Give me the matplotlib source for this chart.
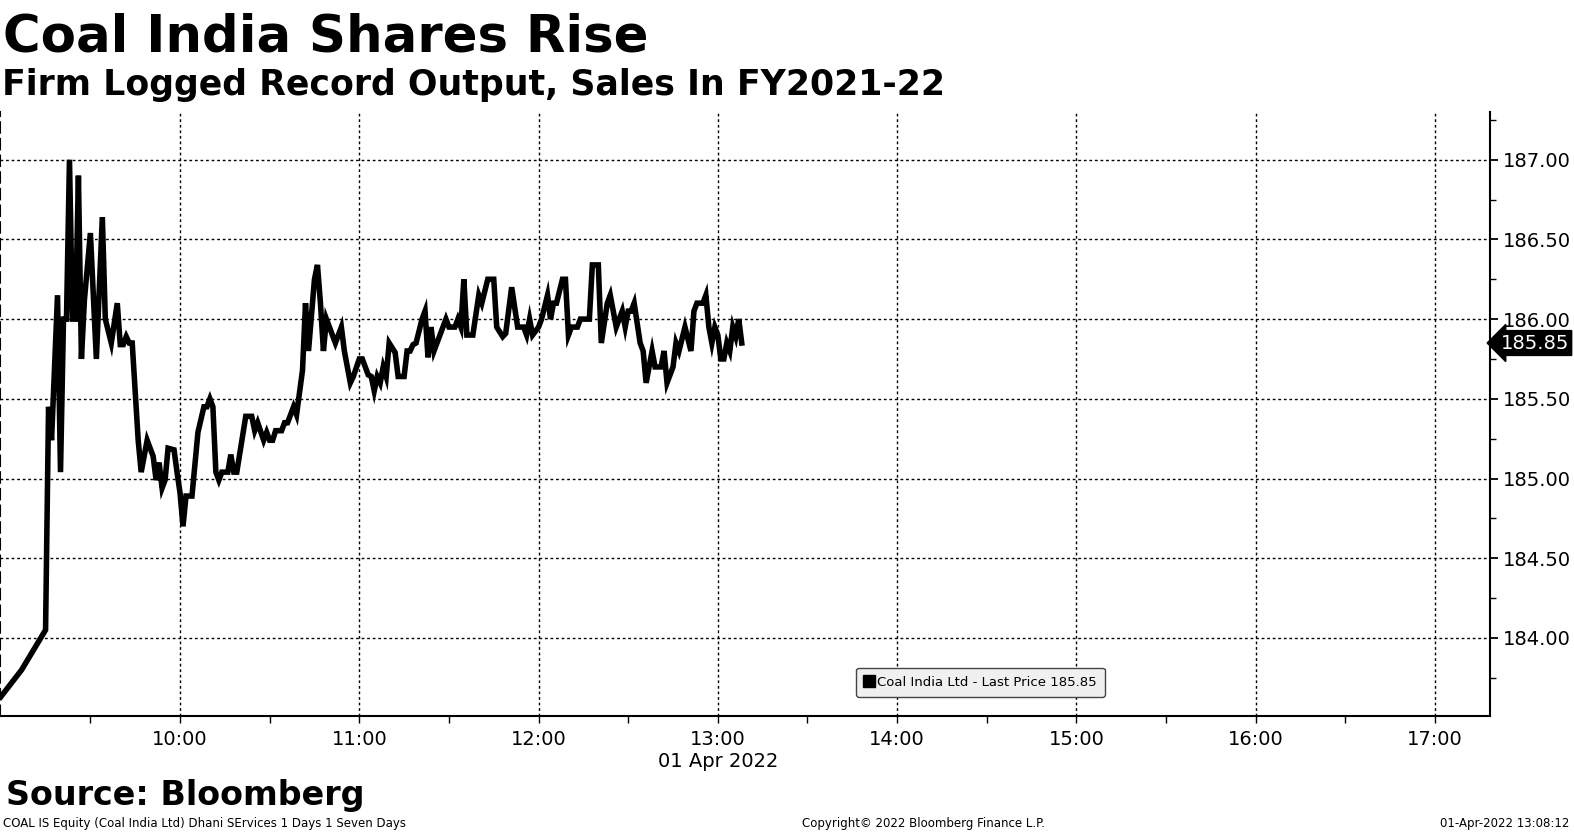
import pandas as pd
import matplotlib
matplotlib.use("Agg")
import matplotlib.pyplot as plt
import matplotlib.dates as mdates
import matplotlib.transforms as mtransforms
from matplotlib.lines import Line2D
from matplotlib.ticker import MultipleLocator

# Coal India intraday price, 01 Apr 2022
times = [
    # 09:xx
    "09:00", "09:07", "09:15", "09:16", "09:17", "09:19", "09:20", "09:21", "09:22", "09:23",
    "09:24", "09:25", "09:26", "09:27", "09:28", "09:30", "09:32", "09:34", "09:35", "09:37",
    "09:39", "09:40", "09:41", "09:42", "09:43", "09:44", "09:46", "09:47", "09:49", "09:51",
    "09:52", "09:53", "09:54", "09:55", "09:56", "09:58", "09:59",
    # 10:xx
    "10:00", "10:01", "10:02", "10:04", "10:06", "10:08", "10:09", "10:10", "10:11", "10:12",
    "10:13", "10:14", "10:16", "10:17", "10:18", "10:19", "10:22", "10:24", "10:25", "10:26",
    "10:28", "10:29", "10:30", "10:31", "10:32", "10:34", "10:35", "10:36", "10:38", "10:39",
    "10:41", "10:42", "10:43", "10:45", "10:46", "10:47", "10:48", "10:49", "10:52", "10:54",
    "10:55", "10:57", "10:58",
    # 11:xx
    "11:00", "11:01", "11:03", "11:04", "11:05", "11:06", "11:07", "11:08", "11:09", "11:10",
    "11:12", "11:13", "11:15", "11:16", "11:17", "11:18", "11:19", "11:21", "11:22", "11:23",
    "11:24", "11:25", "11:29", "11:30", "11:32", "11:33", "11:34", "11:35", "11:36", "11:38",
    "11:40", "11:41", "11:43", "11:45", "11:46", "11:48", "11:49", "11:51", "11:53", "11:55",
    "11:56", "11:57", "11:58",
    # 12:xx
    "12:00", "12:01", "12:03", "12:04", "12:05", "12:06", "12:08", "12:09", "12:10", "12:11",
    "12:13", "12:14", "12:17", "12:18", "12:20", "12:21", "12:23", "12:24", "12:26", "12:28",
    "12:29", "12:30", "12:31", "12:32", "12:34", "12:35", "12:36", "12:38", "12:39", "12:41",
    "12:42", "12:43", "12:45", "12:46", "12:47", "12:49", "12:51", "12:52", "12:53", "12:55",
    "12:56", "12:57", "12:58", "12:59",
    # 13:xx
    "13:00", "13:01", "13:02", "13:03", "13:04", "13:05", "13:06", "13:07", "13:08",
]

prices = [
    # 09:xx
    183.63, 183.80, 184.05, 185.45, 185.24, 186.15, 185.04, 186.00, 186.00, 187.00,
    186.00, 186.00, 186.90, 185.75, 186.12, 186.54, 185.75, 186.64, 186.00, 185.85,
    186.10, 185.84, 185.84, 185.89, 185.85, 185.85, 185.24, 185.04, 185.24, 185.14,
    184.99, 185.10, 184.94, 184.99, 185.19, 185.18, 185.04,
    # 10:xx
    184.91, 184.70, 184.89, 184.89, 185.29, 185.45, 185.45, 185.50, 185.45, 185.04,
    184.99, 185.04, 185.04, 185.15, 185.04, 185.04, 185.39, 185.39, 185.30, 185.35,
    185.24, 185.29, 185.24, 185.24, 185.30, 185.30, 185.35, 185.35, 185.45, 185.40,
    185.68, 186.10, 185.80, 186.25, 186.34, 186.10, 185.80, 186.00, 185.85, 185.95,
    185.80, 185.60, 185.64,
    # 11:xx
    185.75, 185.75, 185.65, 185.64, 185.55, 185.64, 185.60, 185.70, 185.64, 185.85,
    185.79, 185.64, 185.64, 185.80, 185.80, 185.84, 185.85, 186.00, 186.05, 185.76,
    185.95, 185.80, 186.00, 185.95, 185.95, 186.00, 185.95, 186.25, 185.90, 185.90,
    186.15, 186.10, 186.25, 186.25, 185.95, 185.89, 185.91, 186.20, 185.95, 185.95,
    185.90, 186.00, 185.90,
    # 12:xx
    185.95, 186.00, 186.15, 186.00, 186.10, 186.10, 186.25, 186.25, 185.90, 185.95,
    185.95, 186.00, 186.00, 186.34, 186.34, 185.85, 186.10, 186.15, 185.95, 186.05,
    185.95, 186.05, 186.05, 186.10, 185.85, 185.80, 185.60, 185.80, 185.70, 185.70,
    185.80, 185.60, 185.70, 185.85, 185.80, 185.95, 185.80, 186.05, 186.10, 186.10,
    186.15, 185.95, 185.85, 185.95,
    # 13:xx
    185.90, 185.75, 185.75, 185.85, 185.80, 185.95, 185.89, 186.00, 185.85,
]

day = "2022-04-01"
last_price = prices[-1]
series_name = "Coal India Ltd - Last Price"

df = pd.DataFrame({"time": pd.to_datetime([day + " " + t for t in times]), "price": prices})

fig = plt.figure(figsize=(15.74, 8.35), dpi=100)
ax = fig.add_axes([0.0, 0.1425, 0.9466, 0.7235])

ax.plot(df["time"], df["price"], color="black", lw=4.0, solid_joinstyle="miter")

# axis limits
ax.set_xlim(pd.Timestamp(day + " 08:59:45"), pd.Timestamp(day + " 17:18:25"))
ax.set_ylim(183.51, 187.30)

# grid
ax.xaxis.set_major_locator(mdates.HourLocator(byhour=range(10, 18)))
ax.xaxis.set_minor_locator(mdates.MinuteLocator(byminute=[30]))
ax.xaxis.set_major_formatter(mdates.DateFormatter("%H:%M"))
ax.yaxis.set_major_locator(MultipleLocator(0.5))
ax.yaxis.set_minor_locator(MultipleLocator(0.25))
ax.yaxis.set_major_formatter(lambda v, p: f"{v:.2f}")
ax.grid(True, which="major", color="black", linestyle=(0, (2, 2)), lw=1.0)
ax.set_axisbelow(True)

# spines / ticks
ax.yaxis.tick_right()
ax.spines["top"].set_visible(False)
ax.spines["left"].set_linestyle((0, (5, 3)))
ax.spines["left"].set_linewidth(1.5)
ax.spines["right"].set_linewidth(1.5)
ax.spines["bottom"].set_linewidth(1.5)
ax.tick_params(axis="y", which="major", direction="out", length=6, width=1.3, labelsize=14, pad=3)
ax.tick_params(axis="y", which="minor", direction="out", length=4, width=1)
ax.tick_params(axis="x", which="major", direction="out", length=5, width=1, labelsize=14, pad=5)
ax.tick_params(axis="x", which="minor", direction="out", length=5, width=1)
ax.set_xlabel("01 Apr 2022", fontsize=14)
ax.xaxis.set_label_coords(718 / 1490, -0.06)

# last price tag on the right axis
trans = mtransforms.blended_transform_factory(ax.transAxes, ax.transData)
ax.text(1.007, last_price, f"{last_price:.2f}", transform=trans, color="white", fontsize=14,
        va="center", ha="left",
        bbox=dict(boxstyle="larrow,pad=0.15", fc="black", ec="black"))

# legend box
handle = Line2D([], [], color="black", marker="s", linestyle="none", markersize=9)
leg = ax.legend([handle], [f"{series_name} {last_price:.2f}"], loc="center",
                bbox_to_anchor=(0.623, 0.183), bbox_transform=fig.transFigure,
                fontsize=9.5, fancybox=True, framealpha=1, handletextpad=0.2,
                handlelength=0.8, borderpad=0.6)
leg.get_frame().set_facecolor("#f0f0f0")
leg.get_frame().set_edgecolor("#444444")

# titles and footer
fig.text(0.002, 0.985, "Coal India Shares Rise", fontsize=37, fontweight="bold", va="top", ha="left")
fig.text(0.001, 0.919, "Firm Logged Record Output, Sales In FY2021-22", fontsize=25,
         fontweight="bold", va="top", ha="left")
fig.text(0.004, 0.036, "Source: Bloomberg", fontsize=24, fontweight="bold", va="baseline", ha="left")
fig.text(0.002, 0.006, "COAL IS Equity (Coal India Ltd) Dhani SErvices 1 Days 1 Seven Days",
         fontsize=8.5, va="bottom", ha="left")
fig.text(0.587, 0.006, "Copyright\u00a9 2022 Bloomberg Finance L.P.", fontsize=8.5, va="bottom", ha="center")
fig.text(0.997, 0.006, "01-Apr-2022 13:08:12", fontsize=8.5, va="bottom", ha="right")

plt.savefig("out.png", dpi=100)
plt.close()
